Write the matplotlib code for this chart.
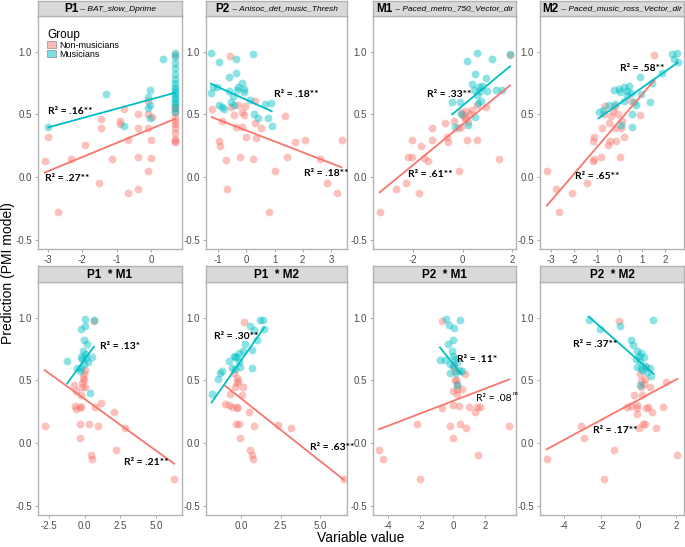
import matplotlib
matplotlib.use("Agg")
import matplotlib.pyplot as plt
from matplotlib.patches import Patch
import numpy as np

plt.rcParams['font.family'] = ['Liberation Sans', 'DejaVu Sans']
plt.rcParams['axes.unicode_minus'] = False

RED = '#F8766D'
CYAN = '#00BFC4'

# ---- data: one pair of arrays per panel and group (nm = non-musicians, m = musicians)
p1_nm_x = [-3.09, -2.99, -2.70, -2.33, -1.92, -1.51, -1.47, -1.47, -1.13, -0.90, -0.90, -0.78, -0.66,
           -0.66, -0.37, -0.37, -0.37, -0.37, -0.10, -0.08, -0.08, -0.08, 0.0, 0.0, 0.02,
           0.70, 0.70, 0.70, 0.70, 0.70, 0.70, 0.70, 0.70, 0.70, 0.70, 0.70, 0.70]
p1_nm_y = [0.128, 0.317, -0.283, 0.141, 0.256, -0.05, 0.464, 0.39, 0.141, 0.448, 0.42, 0.544, 0.293,
           -0.125, 0.50, 0.39, 0.163, -0.096, 0.603, 0.50, 0.39, 0.048, 0.293, 0.155, 0.48,
           0.97, 0.57, 0.55, 0.52, 0.48, 0.45, 0.42, 0.39, 0.35, 0.30, 0.29, 0.28]
p1_m_x = [-2.99, -1.32, -0.78, -0.10, -0.03, -0.03, -0.10, -0.03, 0.36,
          0.70, 0.70, 0.70, 0.70, 0.70, 0.70, 0.70, 0.70, 0.70, 0.70, 0.70, 0.70, 0.70, 0.70, 0.70, 0.70, 0.70]
p1_m_y = [0.395, 0.661, 0.41, 0.635, 0.696, 0.576, 0.55, 0.47, 0.94,
          0.99, 0.96, 0.91, 0.87, 0.82, 0.78, 0.75, 0.72, 0.70, 0.68, 0.66, 0.64, 0.62, 0.60, 0.58, 0.55, 0.52]

p2_nm_x = [-1.23, -0.96, -0.94, -0.88, -0.73, -0.69, -0.57, -0.55, -0.43, -0.37, -0.29, -0.21, -0.17,
           -0.17, -0.07, -0.05, 0.0, 0.24, 0.29, 0.31, 0.33, 0.52, 0.80, 1.0, 1.38, 1.44, 1.71, 2.07,
           2.61, 2.87, 3.20, 3.38]
p2_nm_y = [0.544, 0.288, 0.25, 0.448, 0.136, -0.096, 0.968, 0.555, 0.496, 0.395, 0.576, 0.157, 0.517,
           0.40, 0.496, 0.563, 0.323, 0.141, 0.43, 0.608, 0.31, 0.39, -0.283, 0.048, 0.488, 0.163, 0.283,
           0.296, 0.141, -0.05, -0.125, 0.293]
p2_m_x = [-1.26, -1.26, -1.17, -1.05, -0.96, -0.96, -0.85, -0.79, -0.61, -0.61, -0.55, -0.49, -0.45,
          -0.37, -0.37, -0.33, -0.29, -0.17, -0.10, -0.10, 0.23, 0.14, 0.26, 0.43, 0.67, 0.76, 0.86, 0.90]
p2_m_y = [0.99, 0.67, 0.715, 0.72, 0.917, 0.571, 0.555, 0.544, 0.795, 0.69, 0.597, 0.65, 0.576,
          0.94, 0.83, 0.696, 0.715, 0.75, 0.70, 0.677, 0.984, 0.616, 0.50, 0.47, 0.581, 0.47, 0.589, 0.41]

m1_nm_x = [-3.35, -2.68, -2.27, -2.22, -2.04, -2.04, -1.77, -1.70, -1.57, -1.41, -1.23, -1.22, -0.73,
           -0.62, -0.59, -0.35, -0.19, -0.14, -0.08, 0.03, 0.08, 0.12, 0.16, 0.22, 0.30, 0.39, 0.57,
           0.59, 0.93, 1.47, 1.92, 0.10, -0.05]
m1_nm_y = [-0.283, -0.096, -0.05, 0.163, 0.163, 0.293, -0.125, 0.25, 0.149, 0.13, 0.39, 0.293, 0.43,
           0.317, 0.283, 0.448, 0.39, 0.048, 0.395, 0.496, 0.475, 0.523, 0.296, 0.437, 0.50, 0.536, 0.296,
           0.576, 0.555, 0.141, 0.976, 0.46, 0.52]
m1_m_x = [-0.42, -0.32, -0.11, 0.19, 0.22, 0.39, 0.46, 0.49, 0.49, 0.59, 0.59, 0.62, 0.66, 0.70, 0.73,
          0.80, 0.93, 0.97, 1.2, 1.34, 1.61, 1.92, -0.08]
m1_m_y = [0.597, 0.40, 0.597, 0.923, 0.416, 0.744, 0.696, 0.821, 0.475, 0.99, 0.651, 0.589, 0.715, 0.688,
          0.608, 0.723, 0.789, 0.688, 0.94, 0.696, 0.696, 0.98, 0.50]

m2_nm_x = [-3.19, -2.78, -2.66, -2.09, -1.43, -1.16, -1.13, -1.16, -1.10, -0.79, -0.76, -0.51, -0.47,
           -0.43, -0.37, -0.28, -0.18, -0.13, 0.01, 0.07, 0.12, 0.19, -0.18, -0.07, 0.49, 0.90, 1.54,
           -0.69, -0.62]
m2_nm_y = [0.048, -0.096, -0.283, -0.125, -0.05, 0.288, 0.317, 0.13, 0.144, 0.163, 0.39, 0.256, 0.43,
           0.288, 0.49, 0.523, 0.39, 0.288, 0.163, 0.39, 0.448, 0.317, 0.563, 0.50, 0.608, 0.496, 0.971,
           0.50, 0.563]
m2_m_x = [-0.91, -0.72, -0.47, -0.25, -0.18, -0.03, 0.04, 0.07, 0.19, 0.22, 0.34, 0.34, 0.41, 0.56,
          0.56, 0.63, 0.71, 0.90, 0.96, 1.34, 1.44, 1.88, 2.32, 2.54, 2.40, 2.57, 0.51]
m2_m_y = [0.517, 0.536, 0.571, 0.696, 0.581, 0.704, 0.677, 0.416, 0.715, 0.608, 0.688, 0.656, 0.723, 0.40,
          0.50, 0.597, 0.576, 0.795, 0.661, 0.597, 0.75, 0.829, 0.98, 0.99, 0.944, 0.917, 0.67]

p1m1_nm_x = [-2.79, -0.74, -0.58, -0.65, -0.58, -0.35, -0.35, -0.35, -0.28, -0.23, -0.19, -0.20, -0.10,
             -0.05, 0.0, 0.28, 0.42, 0.53, 0.65, 0.70, 0.93, 1.12, 2.09, 2.21, 2.84, 6.28, -0.05, 0.0]
p1m1_nm_y = [0.136, 0.464, 0.416, 0.296, 0.27, 0.155, 0.043, 0.29, 0.288, 0.384, 0.443, 0.48, 0.52,
             0.55, 0.58, 0.155, -0.096, -0.13, 0.971, 0.288, 0.136, 0.317, 0.25, -0.059, 0.123, -0.29, 0.50, 0.45]
p1m1_m_x = [-1.23, -0.51, -0.23, 0.0, 0.0, -0.05, 0.19, -0.12, 0.0, -0.28, -0.19, 0.12, 0.23, 0.51,
            0.65, 0.35, -0.23, -0.05, -0.35]
p1m1_m_y = [0.656, 0.597, 0.909, 0.99, 0.936, 0.821, 0.789, 0.736, 0.709, 0.688, 0.669, 0.677, 0.643,
            0.688, 0.98, 0.395, 0.597, 0.629, 0.576]

p1m2_nm_x = [-1.04, -0.78, -0.71, -0.61, -0.50, -0.43, -0.30, -0.35, -0.28, -0.22, -0.13, -0.06, 0.04,
             0.09, 0.15, 0.48, 0.58, 0.65, 0.74, 0.80, 2.32, 3.18, 6.54, -0.30, -0.25]
p1m2_nm_y = [0.309, 0.304, 0.39, 0.288, 0.555, 0.443, 0.288, 0.155, 0.283, 0.496, 0.155, 0.043, 0.384,
             0.448, 0.963, 0.25, -0.059, -0.096, -0.13, 0.136, 0.141, 0.123, -0.29, 0.52, 0.48]
p1m2_m_x = [-1.90, -1.52, -1.36, -1.26, -0.78, -0.61, -0.50, -0.39, -0.28, -0.17, -0.06, 0.09, 0.26,
            0.52, 0.65, 0.69, 0.80, 1.17, 1.39, 1.45, 1.02, -0.17, -0.39]
p1m2_m_y = [0.39, 0.509, 0.555, 0.576, 0.656, 0.597, 0.696, 0.688, 0.683, 0.715, 0.608, 0.731, 0.789,
            0.936, 0.597, 0.741, 0.901, 0.981, 0.981, 0.909, 0.821, 0.643, 0.589]

p2m1_nm_x = [-4.56, -4.31, -2.21, -2.04, -0.70, -0.70, -0.19, -0.02, -0.02, 0.02, 0.12, 0.19, 0.27,
             0.27, 0.35, 0.43, 0.54, 0.74, 0.80, 1.01, 1.36, 1.51, 1.57, 1.67, 3.48, 0.06, 0.12, 0.23]
p2m1_nm_y = [-0.059, -0.13, 0.155, -0.29, 0.277, 0.971, 0.136, 0.043, 0.304, 0.416, 0.50, 0.50, 0.39,
             0.43, 0.296, 0.155, 0.43, 0.549, 0.123, 0.288, 0.25, 0.288, -0.096, 0.288, 0.136, 0.616, 0.576, 0.47]
p2m1_m_x = [-0.80, -0.50, -0.43, -0.29, -0.23, -0.02, 0.06, 0.47, -0.08, 0.02, 0.12, 0.27, -0.19, 0.19,
            0.39, 0.54, 0.27, -0.19, 0.02]
p2m1_m_y = [0.661, 0.66, 0.99, 0.789, 0.944, 0.821, 0.917, 0.981, 0.731, 0.696, 0.669, 0.643, 0.555, 0.555,
            0.581, 0.576, 0.464, 0.629, 0.616]

p2m2_nm_x = [-4.94, -3.10, -2.92, -1.87, -1.30, -1.06, -0.61, -0.40, -0.25, -0.11, -0.07, 0.02, 0.07,
             0.11, 0.14, 0.20, 0.25, 0.32, 0.38, 0.50, 0.61, 0.74, 0.92, 1.33, 1.46, 2.09, 0.32, 0.29,
             0.38, -0.07]
p2m2_nm_y = [-0.13, 0.136, 0.043, -0.29, -0.059, 0.971, 0.288, 0.296, 0.384, 0.304, 0.283, 0.123, 0.549,
             0.443, 0.496, 0.384, 0.155, 0.155, 0.283, 0.288, 0.443, 0.25, 0.123, 0.288, 0.483, -0.099, 0.509,
             0.469, 0.608, 0.235]
p2m2_m_x = [-2.68, -2.09, -1.01, -0.43, -0.29, -0.07, 0.02, 0.14, 0.29, 0.07, -0.11, 0.11, 0.32, 0.43,
            0.65, 0.79, 0.61, 0.07, 0.20, -0.16]
p2m2_m_y = [0.981, 0.909, 0.936, 0.821, 0.784, 0.736, 0.696, 0.715, 0.683, 0.656, 0.608, 0.597, 0.616,
            0.563, 0.536, 0.981, 0.597, 0.464, 0.581, 0.669]

# fitted lines: (slope, intercept)
fit_nm = [(0.113, 0.385), (-0.087, 0.371), (0.162, 0.42), (0.212, 0.447),
          (-0.0823, 0.351), (-0.099, 0.353), (0.0495, 0.335), (0.080, 0.345)]
fit_m = [(0.075, 0.62), (-0.102, 0.616), (0.164, 0.569), (0.128, 0.585),
         (0.156, 0.667), (0.178, 0.662), (-0.16, 0.635), (-0.131, 0.658)]

r2_nm = ['.27**', '.18**', '.61**', '.65**', '.21**', '.63**', '.08', '.17**']
r2_m = ['.16**', '.18**', '.33**', '.58**', '.13*', '.30**', '.11*', '.37**']
r2_nm_pos = [(-3.09, -0.016), (2.05, 0.029), (-2.2, 0.016), (-1.94, 0.003),
             (2.74, -0.157), (4.37, -0.037), (1.42, 0.357), (-2.45, 0.096)]
r2_m_pos = [(-2.99, 0.523), (0.98, 0.661), (-1.43, 0.661), (0.01, 0.864),
            (1.05, 0.768), (-1.73, 0.848), (0.27, 0.669), (-3.53, 0.789)]

strip_bold = ['P1', 'P2', 'M1', 'M2', 'P1  * M1', 'P1  * M2', 'P2  * M1', 'P2  * M2']
strip_sub = ['BAT_slow_Dprime', 'Anisoc_det_music_Thresh', 'Paced_metro_750_Vector_dir',
             'Paced_music_ross_Vector_dir', None, None, None, None]

xlims = [(-3.29, 0.9), (-1.43, 3.57), (-3.62, 2.16), (-3.49, 2.84),
         (-3.27, 6.83), (-2.26, 6.74), (-4.93, 3.9), (-5.3, 2.44)]
xticks = [[-3, -2, -1, 0], [-1, 0, 1, 2, 3], [-2, 0, 2], [-3, -2, -1, 0, 1, 2],
          [-2.5, 0, 2.5, 5], [0, 2.5, 5], [-4, -2, 0, 2], [-4, -2, 0, 2]]
xtick_labels = [['-3', '-2', '-1', '0'], ['-1', '0', '1', '2', '3'], ['-2', '0', '2'],
                ['-3', '-2', '-1', '0', '1', '2'], ['-2.5', '0.0', '2.5', '5.0'], ['0.0', '2.5', '5.0'],
                ['-4', '-2', '0', '2'], ['-4', '-2', '0', '2']]

panels = [
    (p1_nm_x, p1_nm_y, p1_m_x, p1_m_y), (p2_nm_x, p2_nm_y, p2_m_x, p2_m_y),
    (m1_nm_x, m1_nm_y, m1_m_x, m1_m_y), (m2_nm_x, m2_nm_y, m2_m_x, m2_m_y),
    (p1m1_nm_x, p1m1_nm_y, p1m1_m_x, p1m1_m_y), (p1m2_nm_x, p1m2_nm_y, p1m2_m_x, p1m2_m_y),
    (p2m1_nm_x, p2m1_nm_y, p2m1_m_x, p2m1_m_y), (p2m2_nm_x, p2m2_nm_y, p2m2_m_x, p2m2_m_y),
]

# ---- layout (pixels of a 685x547 canvas)
W, H = 685, 547
fig = plt.figure(figsize=(W / 100, H / 100), dpi=100)
cols = [(38, 182), (206, 347), (373, 516), (540, 684)]
rows = [(16, 249, 1), (282, 515, 266)]  # panel top, panel bottom, strip top


def frac(x0, x1, top, bottom):
    return [x0 / W, 1 - bottom / H, (x1 - x0) / W, (bottom - top) / H]


strips = []
for i, (nm_x, nm_y, m_x, m_y) in enumerate(panels):
    c0, c1 = cols[i % 4]
    top, bot, stop = rows[i // 4]
    ax = fig.add_axes(frac(c0, c1, top, bot))
    ax.scatter(nm_x, nm_y, s=32, color=RED, alpha=0.45, linewidths=0, zorder=2)
    ax.scatter(m_x, m_y, s=32, color=CYAN, alpha=0.45, linewidths=0, zorder=2)

    for (xs, (a, b), col) in [(nm_x, fit_nm[i], RED), (m_x, fit_m[i], CYAN)]:
        xx = np.array([min(xs), max(xs)])
        ax.plot(xx, a * xx + b, color=col, lw=1.3, zorder=3)

    tx, ty = r2_m_pos[i]
    ax.text(tx, ty, 'R² = ' + r2_m[i], family=['Lato', 'DejaVu Sans'], fontweight='bold',
            fontsize=7.5, va='center', ha='left', zorder=4)
    tx, ty = r2_nm_pos[i]
    if r2_nm[i] == '.08':
        t = ax.text(tx, ty, 'R² = ' + r2_nm[i], family=['Lato', 'DejaVu Sans'],
                    fontsize=7.5, va='center', ha='left', zorder=4)
        ax.annotate('ns', xy=(1, 0.75), xycoords=t, fontsize=4.5, style='italic',
                    family=['Lato', 'DejaVu Sans'], va='bottom', ha='left',
                    xytext=(1, 0), textcoords='offset points')
    else:
        ax.text(tx, ty, 'R² = ' + r2_nm[i], family=['Lato', 'DejaVu Sans'], fontweight='bold',
                fontsize=7.5, va='center', ha='left', zorder=4)

    ax.set_xlim(xlims[i])
    ax.set_ylim(-0.575, 1.285)
    ax.set_xticks(xticks[i])
    ax.set_xticklabels(xtick_labels[i])
    ax.set_yticks([-0.5, 0.0, 0.5, 1.0])
    ax.set_yticklabels(['-0.5', '0.0', '0.5', '1.0'])
    ax.tick_params(labelsize=7, colors='#4D4D4D', length=2.5, width=0.6, pad=2)
    ax.tick_params(color='#999999')
    for sp in ax.spines.values():
        sp.set_color('#B3B3B3')
        sp.set_linewidth(1.0)

    sax = fig.add_axes(frac(c0, c1, stop, top))
    sax.set_facecolor('#D9D9D9')
    sax.set_xticks([])
    sax.set_yticks([])
    for sp in sax.spines.values():
        sp.set_color('#B3B3B3')
        sp.set_linewidth(1.0)
    strips.append(sax)

    if i == 0:
        handles = [Patch(facecolor=RED, alpha=0.5, edgecolor='#555555', linewidth=0.6),
                   Patch(facecolor=CYAN, alpha=0.5, edgecolor='#555555', linewidth=0.6)]
        ax.legend(handles, ['Non-musicians', 'Musicians'], title='Group', loc='upper left',
                  bbox_to_anchor=(0.0, 0.985), frameon=False, fontsize=6.5, title_fontsize=8.5,
                  handlelength=1.0, handleheight=0.9, labelspacing=0.0, handletextpad=0.4,
                  borderpad=0.5, alignment='left')

# strip labels: bold code + italic variable name, centred together
fig.canvas.draw()
renderer = fig.canvas.get_renderer()
for i, sax in enumerate(strips):
    t1 = sax.text(0.5, 0.45, strip_bold[i], fontweight='bold', fontsize=8.5, va='center',
                  ha='left', transform=sax.transAxes)
    if strip_sub[i] is None:
        t1.set_ha('center')
        continue
    t2 = sax.text(0.5, 0.45, ' – ' + strip_sub[i], style='italic', fontsize=6, va='center',
                  ha='left', transform=sax.transAxes)
    w1 = t1.get_window_extent(renderer).width
    w2 = t2.get_window_extent(renderer).width
    aw = sax.bbox.width
    start = 0.5 - (w1 + w2) / 2 / aw
    t1.set_x(start)
    t2.set_x(start + w1 / aw)

fig.text(0.011, 0.50, 'Prediction (PMI model)', rotation=90, fontsize=10, va='center', ha='center')
fig.text(0.526, 0.017, 'Variable value', fontsize=10, va='center', ha='center')

fig.savefig('out.png', dpi=100)
